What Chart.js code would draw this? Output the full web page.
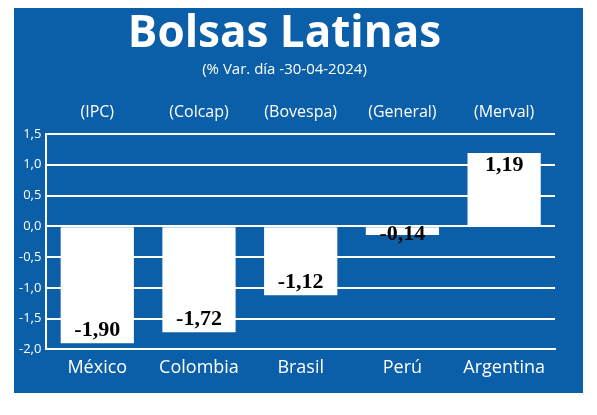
<!DOCTYPE html>
<html>
<head>
<meta charset="utf-8">
<script src="https://cdn.jsdelivr.net/npm/chart.js@4"></script>
<style>
  html, body { margin: 0; background: #fff; }
  #panel { position: absolute; left: 14px; top: 8px; width: 569px; height: 385px; background: #0a5fa8; }
</style>
</head>
<body>
<div id="panel"><canvas id="c" width="569" height="385"></canvas></div>
<script>
const countries = ['México', 'Colombia', 'Brasil', 'Perú', 'Argentina'];
const indices = ['(IPC)', '(Colcap)', '(Bovespa)', '(General)', '(Merval)'];
const changes = [-1.90, -1.72, -1.12, -0.14, 1.19];

const fmt = v => v.toFixed(2).replace('.', ',');

const valueLabels = {
    id: 'valueLabels',
    afterDatasetsDraw(chart) {
        const ctx = chart.ctx;
        const y = chart.scales.y;
        const zero = y.getPixelForValue(0);
        ctx.save();
        ctx.font = 'bold 22px "Liberation Serif"';
        ctx.fillStyle = '#000';
        ctx.textAlign = 'center';
        ctx.textBaseline = 'middle';
        chart.getDatasetMeta(0).data.forEach((bar, i) => {
            const v = changes[i];
            const ly = v < 0 ? Math.max(bar.y - 13, zero + 8) : bar.y + 12;
            ctx.fillText(fmt(v), bar.x, ly);
        });
        ctx.restore();
    }
};

new Chart(document.getElementById('c'), {
    type: 'bar',
    data: {
        labels: countries,
        datasets: [{
            data: changes,
            backgroundColor: '#ffffff',
            barPercentage: 0.72,
            categoryPercentage: 1,
        }]
    },
    options: {
        responsive: false,
        animation: false,
        layout: { padding: { left: 0, right: 28, bottom: 14 } },
        plugins: {
            legend: { display: false },
            tooltip: { enabled: false },
            title: {
                display: true,
                text: 'Bolsas Latinas',
                color: '#fff',
                font: { family: 'Open Sans', size: 44, weight: 'bold' },
                padding: { top: 0, bottom: 0 },
            },
            subtitle: {
                display: true,
                text: '(% Var. día -30-04-2024)',
                color: '#fff',
                font: { family: 'Open Sans', size: 15 },
                padding: { top: 0, bottom: 12 },
            }
        },
        scales: {
            x: {
                grid: { display: false },
                border: { color: '#fff', width: 2 },
                ticks: { color: '#fff', font: { family: 'Open Sans', size: 18 }, padding: 0 },
            },
            x2: {
                position: 'top',
                type: 'category',
                labels: indices,
                grid: { display: false, drawTicks: false },
                border: { display: false },
                ticks: { color: '#fff', font: { family: 'Open Sans', size: 16 }, padding: 12 },
            },
            y: {
                min: -2,
                max: 1.5,
                grid: { color: '#fff', lineWidth: 2, drawTicks: false },
                border: { color: '#fff', width: 2 },
                ticks: {
                    stepSize: 0.5,
                    color: '#fff',
                    padding: 5,
                    font: { family: 'Open Sans', size: 13 },
                    callback: v => v.toFixed(1).replace('.', ','),
                },
            }
        }
    },
    plugins: [valueLabels]
});
</script>
</body>
</html>
